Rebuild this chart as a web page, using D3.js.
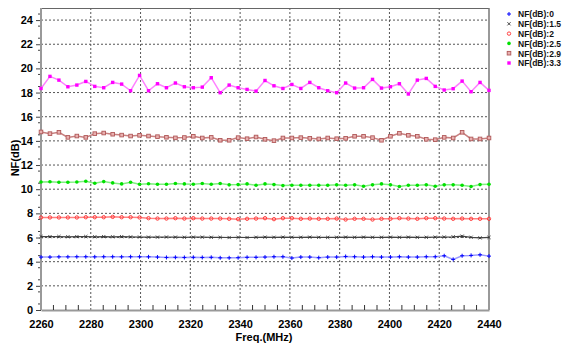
<!DOCTYPE html>
<html>
<head>
<meta charset="utf-8">
<script src="https://cdn.jsdelivr.net/npm/d3@7"></script>
<style>
  body { margin: 0; background: #fff; }
  text { font-family: "Liberation Sans", Arial, sans-serif; }
</style>
</head>
<body>
<div id="chart"></div>
<script>
// frequency points (MHz)
const freqs = [2260, 2263.6, 2267.2, 2270.8, 2274.4, 2278, 2281.6, 2285.2, 2288.8, 2292.4,
  2296, 2299.6, 2303.2, 2306.8, 2310.4, 2314, 2317.6, 2321.2, 2324.8, 2328.4,
  2332, 2335.6, 2339.2, 2342.8, 2346.4, 2350, 2353.6, 2357.2, 2360.8, 2364.4,
  2368, 2371.6, 2375.2, 2378.8, 2382.4, 2386, 2389.6, 2393.2, 2396.8, 2400.4,
  2404, 2407.6, 2411.2, 2414.8, 2418.4, 2422, 2425.6, 2429.2, 2432.8, 2436.4, 2440];

const seriesNames = ["NF(dB):0", "NF(dB):1.5", "NF(dB):2", "NF(dB):2.5", "NF(dB):2.9", "NF(dB):3.3"];

const nf0 = [4.38, 4.38, 4.40, 4.40, 4.41, 4.41, 4.40, 4.41, 4.41, 4.40,
  4.41, 4.41, 4.40, 4.38, 4.35, 4.36, 4.35, 4.36, 4.35, 4.36,
  4.32, 4.32, 4.33, 4.36, 4.36, 4.38, 4.41, 4.41, 4.30, 4.38,
  4.38, 4.33, 4.38, 4.38, 4.43, 4.41, 4.38, 4.41, 4.38, 4.38,
  4.41, 4.38, 4.38, 4.41, 4.41, 4.49, 4.19, 4.49, 4.52, 4.57, 4.46];

const nf15 = [6.08, 6.07, 6.08, 6.06, 6.07, 6.08, 6.06, 6.07, 6.06, 6.07,
  6.05, 6.04, 6.03, 6.03, 6.04, 6.03, 6.02, 6.03, 6.03, 6.02,
  6.01, 6.00, 6.01, 6.00, 6.02, 6.03, 6.02, 6.03, 6.02, 6.02,
  6.03, 6.02, 6.01, 6.02, 6.03, 6.02, 6.03, 6.02, 6.02, 6.03,
  6.02, 6.03, 6.02, 6.02, 6.03, 6.04, 6.06, 6.11, 6.02, 5.97, 6.01];

const nf2 = [7.66, 7.66, 7.66, 7.66, 7.66, 7.68, 7.68, 7.68, 7.71, 7.68,
  7.68, 7.66, 7.60, 7.57, 7.57, 7.60, 7.57, 7.60, 7.57, 7.57,
  7.57, 7.55, 7.52, 7.55, 7.57, 7.60, 7.52, 7.60, 7.60, 7.55,
  7.57, 7.55, 7.55, 7.57, 7.49, 7.55, 7.55, 7.49, 7.55, 7.55,
  7.60, 7.57, 7.55, 7.60, 7.60, 7.57, 7.55, 7.57, 7.55, 7.55, 7.55];

const nf25 = [10.60, 10.62, 10.58, 10.58, 10.60, 10.66, 10.49, 10.63, 10.52, 10.44,
  10.58, 10.41, 10.45, 10.41, 10.41, 10.47, 10.44, 10.41, 10.47, 10.41,
  10.47, 10.36, 10.38, 10.44, 10.33, 10.44, 10.38, 10.30, 10.33, 10.33,
  10.33, 10.33, 10.33, 10.36, 10.33, 10.36, 10.25, 10.36, 10.44, 10.36,
  10.22, 10.33, 10.33, 10.36, 10.25, 10.36, 10.36, 10.33, 10.22, 10.38, 10.41];

const nf29 = [14.74, 14.60, 14.71, 14.29, 14.40, 14.29, 14.60, 14.65, 14.55, 14.48,
  14.40, 14.46, 14.40, 14.35, 14.30, 14.25, 14.28, 14.38, 14.24, 14.29,
  14.05, 14.05, 14.27, 14.18, 14.32, 14.13, 14.02, 14.24, 14.24, 14.27,
  14.21, 14.16, 14.24, 14.18, 14.21, 14.38, 14.38, 14.27, 14.05, 14.38,
  14.63, 14.46, 14.38, 14.13, 14.10, 14.29, 14.24, 14.71, 14.16, 14.16, 14.24];

const nf33 = [18.34, 19.34, 19.03, 18.48, 18.62, 18.92, 18.51, 18.40, 18.84, 18.70,
  18.15, 19.42, 18.15, 18.73, 18.40, 18.79, 18.48, 18.40, 18.45, 19.23,
  17.99, 18.62, 18.40, 18.26, 18.12, 19.00, 18.56, 18.34, 18.67, 18.34,
  18.84, 18.40, 18.15, 17.99, 18.79, 18.37, 18.40, 19.09, 18.37, 18.48,
  18.73, 17.88, 19.03, 19.17, 18.51, 18.21, 18.32, 18.95, 18.07, 18.84, 18.18];

const xTicks = [2260, 2280, 2300, 2320, 2340, 2360, 2380, 2400, 2420, 2440];
const yTicks = [0, 2, 4, 6, 8, 10, 12, 14, 16, 18, 20, 22, 24];

const allSeries = [nf0, nf15, nf2, nf25, nf29, nf33];
const lineColors = ["#9a9aff", "#444444", "#ff8080", "#80f080", "#c88080", "#ff80ff"];
const markColors = ["#0000ff", "#333333", "#ff3030", "#00e000", "#b05858", "#ff00ff"];
const markShapes = ["plus", "cross", "circle", "dot", "square", "fillsquare"];

const W = 566, H = 347;
const margin = {top: 8, right: 77, bottom: 37, left: 41};
const width = W - margin.left - margin.right,
      height = H - margin.top - margin.bottom;

const svg = d3.select("#chart")
  .append("svg")
    .attr("width", W)
    .attr("height", H);

const g = svg.append("g")
    .attr("transform", `translate(${margin.left},${margin.top})`);

const x = d3.scaleLinear().domain([2260, 2440]).range([0, width]);
const y = d3.scaleLinear().domain([0, 25]).range([height, 0]);

// grid lines (dotted)
g.append("g")
  .selectAll("line")
  .data(xTicks.slice(1, -1))
  .enter().append("line")
    .attr("x1", d => x(d)).attr("x2", d => x(d))
    .attr("y1", 0).attr("y2", height)
    .attr("stroke", "#555")
    .attr("stroke-dasharray", "2,2");

g.append("g")
  .selectAll("line")
  .data(yTicks.slice(1))
  .enter().append("line")
    .attr("x1", 0).attr("x2", width)
    .attr("y1", d => y(d)).attr("y2", d => y(d))
    .attr("stroke", "#555")
    .attr("stroke-dasharray", "2,2");

// top and right frame
g.append("line").attr("x1", 0).attr("x2", width).attr("y1", 0.5).attr("y2", 0.5)
  .attr("stroke", "#666");
g.append("line").attr("x1", width).attr("x2", width).attr("y1", 0).attr("y2", height)
  .attr("stroke", "#777").attr("stroke-width", 1.5);

// X axis: labels, minor ticks pointing inward
const xAxis = g.append("g")
  .attr("transform", `translate(0,${height})`)
  .call(d3.axisBottom(x).tickValues(xTicks).tickSize(0).tickPadding(10).tickFormat(d3.format("d")));
xAxis.select(".domain").attr("stroke", "#999").attr("stroke-width", 2);
xAxis.selectAll("text")
  .style("font-size", "11px").style("font-weight", "bold").attr("fill", "#000");

const xMinor = d3.range(2265, 2440, 5).filter(v => v % 20 !== 0);
g.append("g")
  .selectAll("line")
  .data(xMinor)
  .enter().append("line")
    .attr("x1", d => x(d)).attr("x2", d => x(d))
    .attr("y1", height).attr("y2", height - 5)
    .attr("stroke", "#333");

// Y axis: labels, ticks pointing outward
const yAxis = g.append("g")
  .call(d3.axisLeft(y).tickValues(yTicks).tickSize(5).tickPadding(3));
yAxis.select(".domain").remove();
yAxis.selectAll(".tick line").attr("stroke", "#444");
yAxis.selectAll("text")
  .style("font-size", "11px").style("font-weight", "bold").attr("fill", "#000");

const yMinor = d3.range(0.5, 25, 1);
g.append("g")
  .selectAll("line")
  .data(yMinor)
  .enter().append("line")
    .attr("x1", -3).attr("x2", 0)
    .attr("y1", d => y(d)).attr("y2", d => y(d))
    .attr("stroke", "#444");

g.append("line").attr("x1", 0).attr("x2", 0).attr("y1", 0).attr("y2", height)
  .attr("stroke", "#999").attr("stroke-width", 2);

// axis titles
svg.append("text")
  .attr("x", 264).attr("y", 341)
  .attr("text-anchor", "middle")
  .style("font-size", "11px").style("font-weight", "bold")
  .text("Freq.(MHz)");

svg.append("text")
  .attr("transform", "translate(18.5,158)rotate(-90)")
  .attr("text-anchor", "middle")
  .style("font-size", "11px").style("font-weight", "bold")
  .text("NF(dB)");

// markers
function drawMarker(sel, shape, color, cx, cy) {
  if (shape === "plus") {
    sel.append("path").attr("d", `M${cx - 2},${cy}h4M${cx},${cy - 2}v4`)
      .attr("stroke", color).attr("stroke-width", 1);
  } else if (shape === "cross") {
    sel.append("path").attr("d", `M${cx - 1.6},${cy - 1.6}l3.2,3.2M${cx - 1.6},${cy + 1.6}l3.2,-3.2`)
      .attr("stroke", color).attr("stroke-width", 0.9);
  } else if (shape === "circle") {
    sel.append("circle").attr("cx", cx).attr("cy", cy).attr("r", 1.7)
      .attr("fill", "none").attr("stroke", color).attr("stroke-width", 0.9);
  } else if (shape === "dot") {
    sel.append("circle").attr("cx", cx).attr("cy", cy).attr("r", 1.8)
      .attr("fill", color);
  } else if (shape === "square") {
    sel.append("rect").attr("x", cx - 1.8).attr("y", cy - 1.8).attr("width", 3.6).attr("height", 3.6)
      .attr("fill", "#e8b0b0").attr("stroke", color).attr("stroke-width", 0.9);
  } else {
    sel.append("rect").attr("x", cx - 1.7).attr("y", cy - 1.7).attr("width", 3.4).attr("height", 3.4)
      .attr("fill", color);
  }
}

const line = d3.line()
  .x((d, i) => x(freqs[i]))
  .y(d => y(d));

allSeries.forEach((vals, k) => {
  const sg = g.append("g");
  sg.append("path")
    .datum(vals)
    .attr("d", line)
    .attr("fill", "none")
    .attr("stroke", lineColors[k])
    .attr("stroke-width", k === 1 ? 1.2 : 1.5);
  vals.forEach((v, i) => drawMarker(sg, markShapes[k], markColors[k], x(freqs[i]), y(v)));
});

// legend
const legend = svg.append("g").attr("transform", "translate(509,14)");
seriesNames.forEach((name, k) => {
  const row = legend.append("g").attr("transform", `translate(0,${k * 9.8})`);
  drawMarker(row, markShapes[k], markColors[k], 0, 0);
  row.append("text")
    .attr("x", 9).attr("y", 3.3)
    .style("font-size", "8.5px").style("font-weight", "bold")
    .attr("fill", "#111")
    .text(name);
});
</script>
</body>
</html>
